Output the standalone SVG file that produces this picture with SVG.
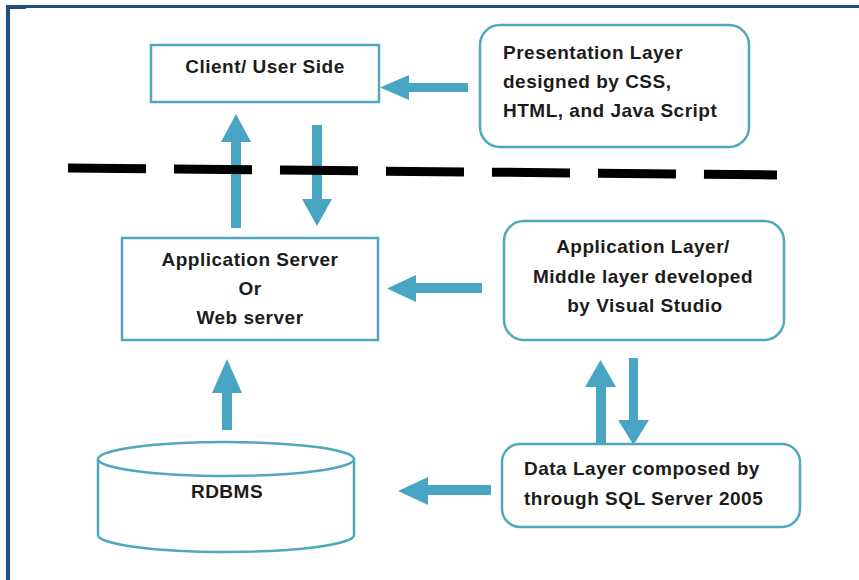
<svg xmlns="http://www.w3.org/2000/svg" width="859" height="580" viewBox="0 0 859 580">
<style>
.box{fill:#fff;stroke:#4fa9bd;stroke-width:2.5}
.t{font-family:"Liberation Sans",Arial,sans-serif;font-weight:bold;font-size:19px;letter-spacing:0.5px;fill:#1c1c1c}
.c{text-anchor:middle}
.arr{fill:#48a6c4}
</style>
<rect width="859" height="580" fill="#fff"/>
<g id="frame" fill="#1f4e7f">
<rect x="6" y="5" width="853" height="3"/>
<rect x="6" y="5" width="4" height="575"/>
<rect x="6" y="5" width="20" height="4"/>
</g>
<g id="client">
<rect class="box" x="151" y="45" width="228" height="57"/>
<text class="t c" x="265" y="73">Client/ User Side</text>
</g>
<g id="presentation">
<rect class="box" x="480" y="25" width="269" height="122" rx="20"/>
<text class="t" x="503" y="59">Presentation Layer</text>
<text class="t" x="503" y="88">designed by CSS,</text>
<text class="t" x="503" y="117">HTML, and Java Script</text>
</g>
<g id="appserver">
<rect class="box" x="122" y="238" width="256" height="102"/>
<text class="t c" x="250" y="266">Application Server</text>
<text class="t c" x="250" y="295">Or</text>
<text class="t c" x="250" y="324">Web server</text>
</g>
<g id="applayer">
<rect class="box" x="504" y="221" width="280" height="119" rx="20"/>
<text class="t c" x="643" y="253">Application Layer/</text>
<text class="t c" x="643" y="283">Middle layer developed</text>
<text class="t c" x="645" y="312">by Visual Studio</text>
</g>
<g id="datalayer">
<rect class="box" x="502" y="444" width="298" height="83" rx="18"/>
<text class="t" x="524" y="475">Data Layer composed by</text>
<text class="t" x="524" y="505">through SQL Server 2005</text>
</g>
<g id="rdbms">
<path class="box" d="M98,459 V535 A128,17 0 0 0 354,535 V459"/>
<ellipse class="box" cx="226" cy="459" rx="128" ry="17"/>
<text class="t c" x="227" y="498">RDBMS</text>
</g>
<g id="connectors" class="arr">
<path d="M468,83 H409 V75 L380,87.5 L409,100 V92 H468 Z"/>
<path d="M231,228 V142 H221 L236,114 L251,142 H241 V228 Z"/>
<path d="M312,125 V199 H302 L317,226 L332,199 H322 V125 Z"/>
<path d="M482,283 H416 V275 L387,288.5 L416,302 V293 H482 Z"/>
<path d="M596,443 V387 H585 L600.5,360 L616,387 H606 V443 Z"/>
<path d="M629,358 V420 H618 L633.5,445 L649,420 H638 V358 Z"/>
<path d="M491,485 H428 V477 L398,491 L428,505 V495 H491 Z"/>
<path d="M222,430 V393 H212 L227,359 L242,393 H232 V430 Z"/>
</g>
<g id="divider">
<line x1="68" y1="168" x2="777" y2="175" stroke="#000" stroke-width="9" stroke-dasharray="78 28"/>
</g>
</svg>
